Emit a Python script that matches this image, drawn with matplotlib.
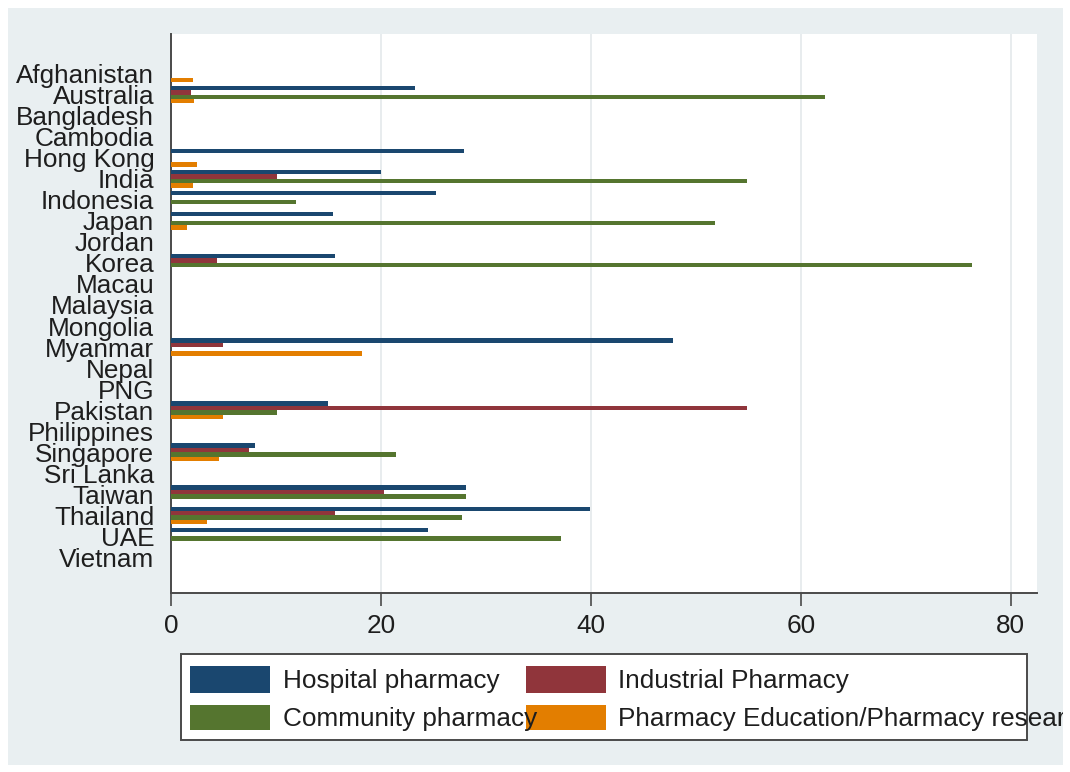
import numpy as np
import matplotlib
matplotlib.use("Agg")
import matplotlib.pyplot as plt
from matplotlib.patches import Rectangle
from matplotlib.transforms import Bbox, TransformedBbox

plt.rcParams['font.family'] = ['Liberation Sans', 'DejaVu Sans']

countries = ["Afghanistan", "Australia", "Bangladesh", "Cambodia", "Hong Kong",
             "India", "Indonesia", "Japan", "Jordan", "Korea", "Macau",
             "Malaysia", "Mongolia", "Myanmar", "Nepal", "PNG", "Pakistan",
             "Philippines", "Singapore", "Sri Lanka", "Taiwan", "Thailand",
             "UAE", "Vietnam"]

hospital = [0, 23.2, 0, 0, 27.9, 20.0, 25.2, 15.4, 0, 15.6, 0, 0, 0,
            47.8, 0, 0, 15.0, 0, 8.0, 0, 28.1, 39.9, 24.5, 0]
industrial = [0, 1.9, 0, 0, 0, 10.1, 0, 0, 0, 4.4, 0, 0, 0,
              5.0, 0, 0, 54.9, 0, 7.4, 0, 20.3, 15.6, 0, 0]
community = [0, 62.3, 0, 0, 0, 54.9, 11.9, 51.8, 0, 76.3, 0, 0, 0,
             0, 0, 0, 10.1, 0, 21.4, 0, 28.1, 27.7, 37.2, 0]
education = [2.1, 2.2, 0, 0, 2.5, 2.1, 0, 1.5, 0, 0, 0, 0, 0,
             18.2, 0, 0, 5.0, 0, 4.6, 0, 0, 3.4, 0, 0]

series_names = ["Hospital pharmacy", "Industrial Pharmacy",
                "Community pharmacy", "Pharmacy Education/Pharmacy research"]
x_ticks = [0, 20, 40, 60, 80]

# stata s2color palette
colors = ["#1a476f", "#90353b", "#55752f", "#e37e00"]
bg = "#e9eff1"
axis_col = "#4a4a4a"
txt_col = "#1e1e1e"

W, H = 1070, 772
fig = plt.figure(figsize=(W / 100, H / 100), dpi=100)
fig.patch.set_facecolor("white")


def fx(x):
    return x / W


def fy(y):
    return 1 - y / H


# graph region
fig.add_artist(Rectangle((fx(8), fy(765)), fx(1063) - fx(8), fy(8) - fy(765),
                         transform=fig.transFigure, facecolor=bg,
                         edgecolor="none", zorder=-2))

ax = fig.add_axes([fx(171), fy(593), fx(1037) - fx(171), fy(34) - fy(593)])
ax.set_facecolor("white")

y = np.arange(len(countries))
slot = 0.21
data = [hospital, industrial, community, education]
for k, (vals, c) in enumerate(zip(data, colors)):
    ax.barh(y + (k - 1.5) * slot, vals, height=slot, color=c,
            linewidth=0, zorder=3)

ax.set_ylim(len(countries) - 1 + 1.69, -1.88)
ax.set_xlim(0, 82.5)

ax.set_yticks(y)
ax.set_yticklabels(countries, fontsize=18.8, color=txt_col)
ax.tick_params(axis="y", length=0, pad=12)

ax.set_xticks(x_ticks)
ax.set_xticklabels([str(t) for t in x_ticks], fontsize=18.8, color=txt_col)
ax.tick_params(axis="x", direction="out", length=9, width=1.2,
               color=axis_col, pad=6)

ax.grid(axis="x", color="#e4e9eb", linewidth=1.2, zorder=0)
ax.set_axisbelow(True)
for s in ["top", "right"]:
    ax.spines[s].set_visible(False)
for s in ["left", "bottom"]:
    ax.spines[s].set_color(axis_col)
    ax.spines[s].set_linewidth(1.4)

# legend box drawn by hand so its text can run past the frame
fig.add_artist(Rectangle((fx(181), fy(740)), fx(1027) - fx(181), fy(654) - fy(740),
                         transform=fig.transFigure, facecolor="white",
                         edgecolor=axis_col, linewidth=1.4, zorder=1))

clip = TransformedBbox(Bbox([[fx(8), fy(765)], [fx(1063), fy(8)]]), fig.transFigure)
swatch_x = [190, 526]
text_x = [283, 618]
rows = [(666, 693, 688), (705, 730, 726)]
for i, name in enumerate(series_names):
    col, row = i % 2, i // 2
    top, bot, base = rows[row]
    fig.add_artist(Rectangle((fx(swatch_x[col]), fy(bot)),
                             fx(swatch_x[col] + 80) - fx(swatch_x[col]),
                             fy(top) - fy(bot), transform=fig.transFigure,
                             facecolor=colors[i], edgecolor="none", zorder=2))
    t = fig.text(fx(text_x[col]), fy(base), name, fontsize=18.8,
                 color=txt_col, va="baseline", ha="left", zorder=3)
    t.set_clip_box(clip)
    t.set_clip_on(True)

fig.savefig("out.png", dpi=100)
